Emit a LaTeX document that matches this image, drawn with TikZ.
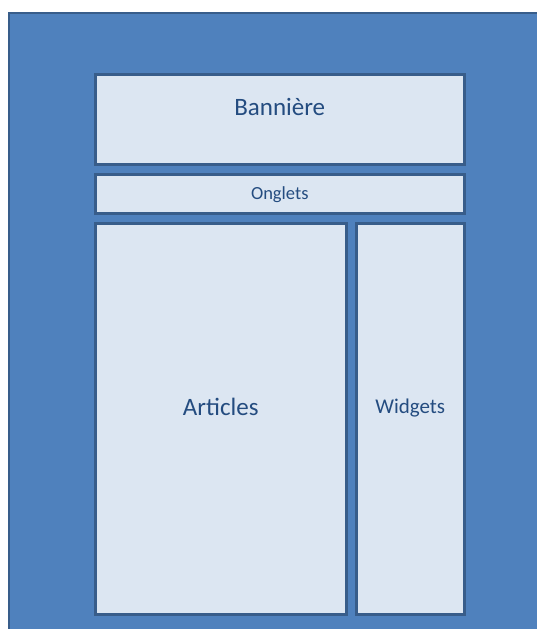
\documentclass[tikz,border=0pt]{standalone}
\usepackage{fontspec}
\setmainfont{Carlito}
\usetikzlibrary{positioning}
\definecolor{fond}{HTML}{4F81BD}
\definecolor{bord}{HTML}{385D8A}
\definecolor{clair}{HTML}{DCE6F2}
\definecolor{texte}{HTML}{244C80}
\begin{document}
\begin{tikzpicture}[x=1pt,y=-1pt,
        bloc/.style={draw=bord,fill=clair,line width=2.5pt,inner sep=0pt,anchor=north west},
        etiquette/.style={text=texte,inner sep=0pt}]
            \useasboundingbox (0,0) rectangle (537,629);
            \draw [draw=bord,fill=fond,line width=2pt] (9,13) rectangle (560,650);
            \node [bloc,minimum width=369pt,minimum height=90pt] (banniere) at (94,73) {};
            \node [bloc,minimum width=369pt,minimum height=39pt] (onglets) at (94,173) {};
            \node [bloc,minimum width=251pt,minimum height=391pt] (articles) at (94,222) {};
            \node [bloc,minimum width=108pt,minimum height=391pt] (widgets) at (355,222) {};
            \node [etiquette,font=\fontsize{25}{30}\selectfont,yshift=12pt] (t-banniere) at (banniere.center) {Bannière};
            \node [etiquette,font=\fontsize{18.5}{22}\selectfont,yshift=-1pt] (t-onglets) at (onglets.center) {Onglets};
            \node [etiquette,font=\fontsize{25}{30}\selectfont,yshift=12pt] (t-articles) at (articles.center) {Articles};
            \node [etiquette,font=\fontsize{21}{25}\selectfont,yshift=11pt] (t-widgets) at (widgets.center) {Widgets};
        \end{tikzpicture}
\end{document}
